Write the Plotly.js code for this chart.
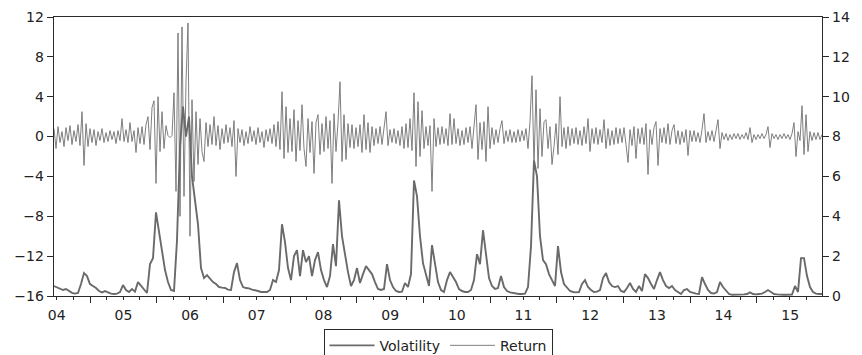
<!DOCTYPE html>
<html>
<head>
<meta charset="utf-8">
<script src="https://cdn.plot.ly/plotly-3.0.1.min.js"></script>
<style>html,body{margin:0;padding:0;background:#fff;}#chart{width:862px;height:355px;}</style>
</head>
<body>
<div id="chart"></div>
<script>
const startDate = '2004-06-17';
const endDate = '2015-12-24';

// Return (left axis), evenly spaced observations
const returnVals = [
 0.8,-1.2,1.0,-0.6,0.5,-1.0,0.9,-0.4,1.1,-0.8,
 0.6,-0.5,1.2,-0.9,2.5,-2.9,1.3,-1.0,0.8,-0.6,
 0.7,-0.9,0.5,-0.4,0.8,-0.6,0.4,-0.5,0.6,-0.3,
 0.5,-0.7,0.6,-0.4,1.8,-0.5,0.7,-0.6,1.4,-0.5,
 0.6,-1.6,0.9,-0.7,1.0,-0.8,1.2,2.0,-1.3,2.9,
 3.6,-4.7,4.0,-1.5,2.5,-1.2,1.1,0.1,-0.1,0.1,
 4.4,-5.5,10.4,-8.0,11.0,-6.0,5.5,11.4,-10.0,3.7,
 -4.5,2.5,-2.8,1.8,-1.5,-2.5,1.4,-1.0,1.2,-0.8,
 2.0,-0.9,1.1,-1.3,0.8,-0.7,1.2,-0.6,0.9,-1.0,
 1.6,-4.0,0.8,-0.6,0.7,-0.9,0.5,-0.7,1.0,-0.5,
 0.6,-0.8,0.9,-0.6,0.5,-1.1,0.7,-0.5,0.8,-0.7,
 1.2,-1.0,1.5,-1.3,4.5,-2.2,3.0,-1.6,1.8,-1.5,
 2.7,-2.5,1.6,-1.4,3.2,-1.2,-3.0,1.8,-1.6,1.5,
 -3.7,1.4,2.2,-1.8,1.3,-1.5,2.0,-1.2,1.6,-4.7,
 2.3,-1.5,1.4,5.5,-2.5,2.2,-2.3,1.3,-1.1,1.2,
 -1.2,0.9,-1.0,1.2,-1.6,2.2,-1.3,1.4,-1.6,1.0,
 -0.9,0.8,-0.7,1.0,-0.8,0.9,2.5,-0.9,0.7,-0.6,
 0.8,-0.7,0.6,-0.9,1.0,-1.2,1.3,-1.1,1.8,-1.4,
 4.4,-3.0,3.5,-2.0,2.6,-1.2,1.0,-0.9,1.1,-5.5,
 1.8,-1.0,0.9,-0.8,1.0,-0.7,0.8,-0.9,2.3,-0.8,
 1.8,-0.7,0.8,-0.9,0.6,-0.8,0.9,-0.6,1.0,-1.2,
 1.3,3.2,-2.3,1.4,-1.3,1.5,-2.5,3.0,-1.2,0.9,
 -0.8,0.7,-0.6,0.8,1.6,-0.7,0.6,-0.5,0.7,-0.6,
 0.5,-0.6,0.7,-0.5,0.6,-0.4,0.8,-1.2,1.5,6.1,
 -3.0,4.7,-3.2,2.8,-2.0,1.5,1.7,-1.2,1.0,-2.8,
 -1.0,1.3,-1.8,4.0,-1.0,0.9,-1.2,1.0,-0.9,0.8,
 -0.7,0.9,-0.8,0.6,-0.9,1.0,-0.7,1.8,-1.5,0.8,
 -0.7,0.9,-0.8,0.7,-0.6,1.7,-1.2,0.8,-0.9,0.6,
 -0.8,0.9,-0.7,0.8,-0.6,0.9,-0.8,-2.6,0.7,-0.9,
 1.0,-2.2,0.8,-0.7,0.9,-0.8,1.3,-3.8,0.7,-0.8,
 0.9,1.5,-2.9,0.8,-0.6,0.9,-0.7,1.3,-0.8,0.6,
 1.2,-0.7,0.6,-0.8,0.5,-0.6,0.7,-1.9,0.6,-0.5,
 0.6,-0.5,0.4,-0.6,0.7,2.3,-0.6,0.5,-0.4,0.6,
 -0.5,0.6,1.7,-1.2,0.4,-0.3,0.3,-0.4,0.2,-0.3,
 0.3,-0.2,0.3,-0.3,0.2,-0.2,0.4,-0.3,0.9,-0.6,
 0.2,-0.3,0.2,-0.2,0.3,-0.2,0.2,1.0,-1.1,0.3,
 -0.2,0.2,-0.3,0.2,-0.2,0.3,-0.2,0.2,-0.3,0.3,
 1.4,-2.0,0.5,-0.4,3.1,-1.8,2.2,-1.5,0.5,-0.4,
 0.4,-0.3,0.4,-0.3,0.2
];

// Volatility (right axis), evenly spaced observations
const volatilityVals = [
 0.5,0.42,0.35,0.3,0.35,0.25,0.16,0.12,0.15,0.6,
 1.15,1.0,0.6,0.5,0.4,0.25,0.18,0.25,0.18,0.12,
 0.1,0.12,0.2,0.55,0.3,0.2,0.35,0.22,0.7,0.5,
 0.3,0.15,1.6,1.9,4.2,3.2,2.2,1.3,0.7,0.3,
 0.25,2.8,7.5,9.5,8.0,9.0,6.0,4.8,3.6,1.4,
 0.9,1.05,0.85,0.7,0.6,0.45,0.42,0.4,0.32,0.3,
 1.2,1.65,0.8,0.45,0.4,0.38,0.32,0.3,0.25,0.2,
 0.2,0.2,0.3,0.8,0.7,1.3,3.6,2.7,1.4,0.8,
 2.0,2.3,1.0,2.3,1.7,2.0,1.0,1.8,2.2,1.3,
 0.8,0.45,1.0,2.6,1.5,4.8,3.0,2.0,1.2,0.5,
 0.8,1.4,0.65,1.1,1.5,1.3,1.1,0.7,0.35,0.3,
 0.35,1.6,0.8,0.45,0.25,0.2,0.22,0.65,0.45,1.1,
 5.8,5.0,3.0,1.65,1.0,0.5,2.55,1.5,0.7,0.3,
 0.2,0.8,1.2,0.95,0.7,0.35,0.25,0.2,0.2,0.3,
 0.8,2.1,1.6,3.3,2.0,0.9,0.5,0.35,0.4,1.0,
 0.45,0.25,0.18,0.15,0.12,0.1,0.1,0.12,0.45,2.5,
 6.8,6.0,3.0,1.8,1.6,1.1,0.8,0.5,2.5,1.2,
 0.6,0.4,0.25,0.2,0.18,0.2,0.6,0.8,0.45,0.3,
 0.2,0.22,0.3,0.9,1.15,0.7,0.5,0.45,0.5,0.25,
 0.2,0.4,0.65,0.35,0.2,0.5,0.25,1.1,0.9,0.6,
 0.35,0.8,1.2,0.8,0.5,0.4,0.5,0.3,0.2,0.1,
 0.3,0.35,0.2,0.15,0.12,0.1,0.95,0.6,0.3,0.15,
 0.12,0.2,0.7,0.45,0.25,0.1,0.06,0.06,0.06,0.07,
 0.08,0.1,0.18,0.1,0.08,0.1,0.12,0.2,0.3,0.2,
 0.1,0.08,0.06,0.06,0.06,0.06,0.07,0.5,0.2,1.9,
 1.9,1.0,0.45,0.2,0.12,0.1,0.1
];

const leftTicks = [-16, -12, -8, -4, 0, 4, 8, 12];
const rightTicks = [0, 2, 4, 6, 8, 10, 12, 14];
const seriesNames = ['Volatility', 'Return'];

function dates(n) {
  const s = Date.parse(startDate + 'T00:00:00Z');
  const e = Date.parse(endDate + 'T00:00:00Z');
  const out = [];
  for (let i = 0; i < n; i++) {
    const t = new Date(s + (e - s) * i / (n - 1));
    out.push(t.toISOString().slice(0, 19).replace('T', ' '));
  }
  return out;
}

const lineColor = '#6a6a6a';
const axisColor = '#2a2a2a';
const tickFont = {family: 'DejaVu Sans, Arial, sans-serif', size: 14, color: '#222'};

const traces = [
  {
    x: dates(volatilityVals.length), y: volatilityVals, name: seriesNames[0],
    type: 'scatter', mode: 'lines', yaxis: 'y2',
    line: {color: lineColor, width: 1.9}
  },
  {
    x: dates(returnVals.length), y: returnVals, name: seriesNames[1],
    type: 'scatter', mode: 'lines', yaxis: 'y',
    line: {color: '#707070', width: 0.9}
  }
];

const layout = {
  width: 862, height: 355,
  margin: {l: 54, r: 40, t: 17, b: 59, pad: 0},
  paper_bgcolor: '#fff', plot_bgcolor: '#fff',
  showlegend: true,
  legend: {
    orientation: 'h', x: 0.5, xanchor: 'center', xref: 'paper',
    yref: 'container', y: 0.074, yanchor: 'top',
    bordercolor: axisColor, borderwidth: 1, bgcolor: '#fff',
    font: {family: 'DejaVu Sans, Arial, sans-serif', size: 14, color: '#222'},
    itemwidth: 45, traceorder: 'normal'
  },
  xaxis: {
    type: 'date', range: [startDate, endDate], automargin: false,
    tick0: '2004-01-01', dtick: 'M12', ticklabelmode: 'period', tickformat: '%y',
    ticks: 'outside', ticklen: 6, tickcolor: axisColor, tickwidth: 1,
    showline: true, linecolor: axisColor, linewidth: 1.3, mirror: true,
    showgrid: false, zeroline: false, tickfont: tickFont,
    minor: {tick0: '2004-01-01', dtick: 'M3', ticks: 'outside', ticklen: 3, tickcolor: axisColor, tickwidth: 1, showgrid: false}
  },
  yaxis: {
    range: [-16, 12], tickmode: 'array', tickvals: leftTicks, automargin: false,
    ticks: 'outside', ticklen: 6, tickcolor: axisColor,
    showline: true, linecolor: axisColor, linewidth: 1.3,
    showgrid: false, zeroline: false, tickfont: tickFont
  },
  yaxis2: {
    overlaying: 'y', side: 'right', automargin: false,
    range: [0, 14], tickmode: 'array', tickvals: rightTicks,
    ticks: 'outside', ticklen: 6, tickcolor: axisColor,
    showline: true, linecolor: axisColor, linewidth: 1.3,
    showgrid: false, zeroline: false, tickfont: tickFont
  }
};

Plotly.newPlot('chart', traces, layout, {displayModeBar: false, staticPlot: true});
</script>
</body>
</html>
